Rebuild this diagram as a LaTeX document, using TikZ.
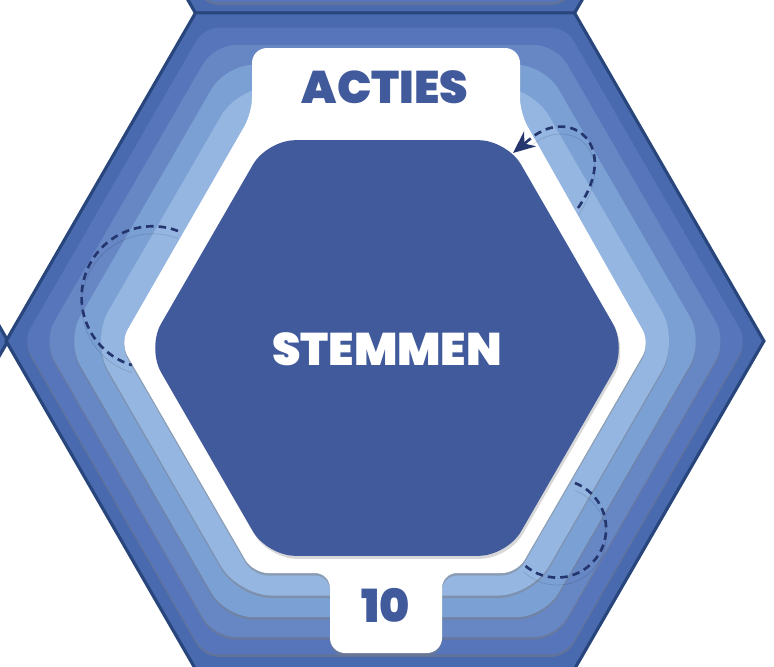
\documentclass[tikz,border=0pt]{standalone}
\usepackage{fontspec}
\IfFontExistsTF{Poppins Black}
    {\newfontfamily\hexfont{Poppins Black}}
    {\IfFontExistsTF{Poppins ExtraBold}
        {\newfontfamily\hexfont{Poppins ExtraBold}}
        {\newfontfamily\hexfont{Poppins}[UprightFont=*, UprightFeatures={FakeBold=3}]}}
\usetikzlibrary{shapes.geometric, arrows.meta, shadows}

\definecolor{hexedge}{HTML}{28467C}
\definecolor{ringA}{HTML}{4A6AAF}
\definecolor{ringB}{HTML}{5675BA}
\definecolor{ringC}{HTML}{6686C4}
\definecolor{ringD}{HTML}{7BA0D4}
\definecolor{ringE}{HTML}{94B6E0}
\definecolor{stemblue}{HTML}{415A9B}
\definecolor{dashnavy}{HTML}{25366F}

\begin{document}
\begin{tikzpicture}[
    x=0.02cm, y=-0.02cm,
    hexlayer/.style={
        regular polygon, regular polygon sides=6,
        inner sep=0pt, outer sep=0pt
    },
    ringshade/.style={drop shadow={shadow xshift=0pt, shadow yshift=-0.05cm, opacity=0.45}},
    outerring/.style={hexlayer, fill=ringA, draw=hexedge, line width=1.8pt, minimum size=15.16cm},
    ringtwo/.style={hexlayer, fill=ringB, ringshade, rounded corners=0.3cm, minimum size=14.48cm},
    hexlabel/.style={font=\hexfont\fontsize{26}{30}\selectfont, text=stemblue},
    dasharc/.style={draw=dashnavy, line width=1.5pt, dash pattern=on 0.15cm off 0.1cm,
        preaction={draw=black, opacity=0.12, transform canvas={yshift=-0.15cm}}},
    arrowtip/.style={draw=dashnavy, fill=dashnavy, line width=1.5pt, solid,
        -{Stealth[length=4.4mm, width=3.8mm]}},
]

\useasboundingbox (0,0) rectangle (774,666);
\clip (0,0) rectangle (774,666);

% Neighbouring tiles (above and to the left)
\node[outerring] (tileabove) at (385,-315) {};
\node[ringtwo]   (ringabove) at (385,-311) {};
\node[outerring] (tileleft)  at (-371,341) {};

% Layered main tile
\node[outerring] (outerhex) at (385,341) {};
\node[ringtwo]   (ringb)    at (385,341) {};
\node[hexlayer, fill=ringC, ringshade, rounded corners=0.44cm, minimum size=13.68cm] (ringc) at (385,341) {};
\node[hexlayer, fill=ringD, ringshade, rounded corners=0.56cm, minimum size=12.76cm] (ringd) at (385,341) {};
\node[hexlayer, fill=ringE, ringshade, rounded corners=0.68cm, minimum size=11.76cm] (ringe) at (385,341) {};

% White card with top and bottom tabs
\fill[white, rounded corners=0.3cm, ringshade]
    (386,48) -- (520,48) -- (520,113) -- (650,343) -- (517,573) -- (442,573)
    -- (442,653) -- (330,653) -- (330,573) -- (253,573) -- (120,343)
    -- (252,113) -- (252,48) -- cycle;

% Central hexagon
\node[hexlayer, fill=stemblue, rounded corners=0.56cm, minimum size=9.6cm,
      drop shadow={shadow xshift=0.03cm, shadow yshift=-0.06cm, opacity=0.3}] (innerhex) at (387,348) {};

% Labels
\node[hexlabel] (acties)  at (385,87)  {ACTIES};
\node[hexlabel, text=white] (stemmen) at (387,349) {STEMMEN};
\node[hexlabel] (score)   at (386,605) {10};

% Dashed arcs
\coordinate (votestart) at (578,208);
\coordinate (votebend)  at (530,139);
\coordinate (votetip)   at (513,153);
\draw[dasharc] (votestart) .. controls (622,145) and (570,105) .. (votebend);
\draw[arrowtip] (votebend) -- (votetip);

\coordinate (leftarcstart) at (178,231);
\draw[dasharc] (leftarcstart) arc[start angle=69, end angle=253, radius=1.42cm];

\coordinate (lowarcstart) at (575,483);
\draw[dasharc] (lowarcstart) arc[start angle=68.6, end angle=-133.4, radius=0.98cm];

\end{tikzpicture}
\end{document}
